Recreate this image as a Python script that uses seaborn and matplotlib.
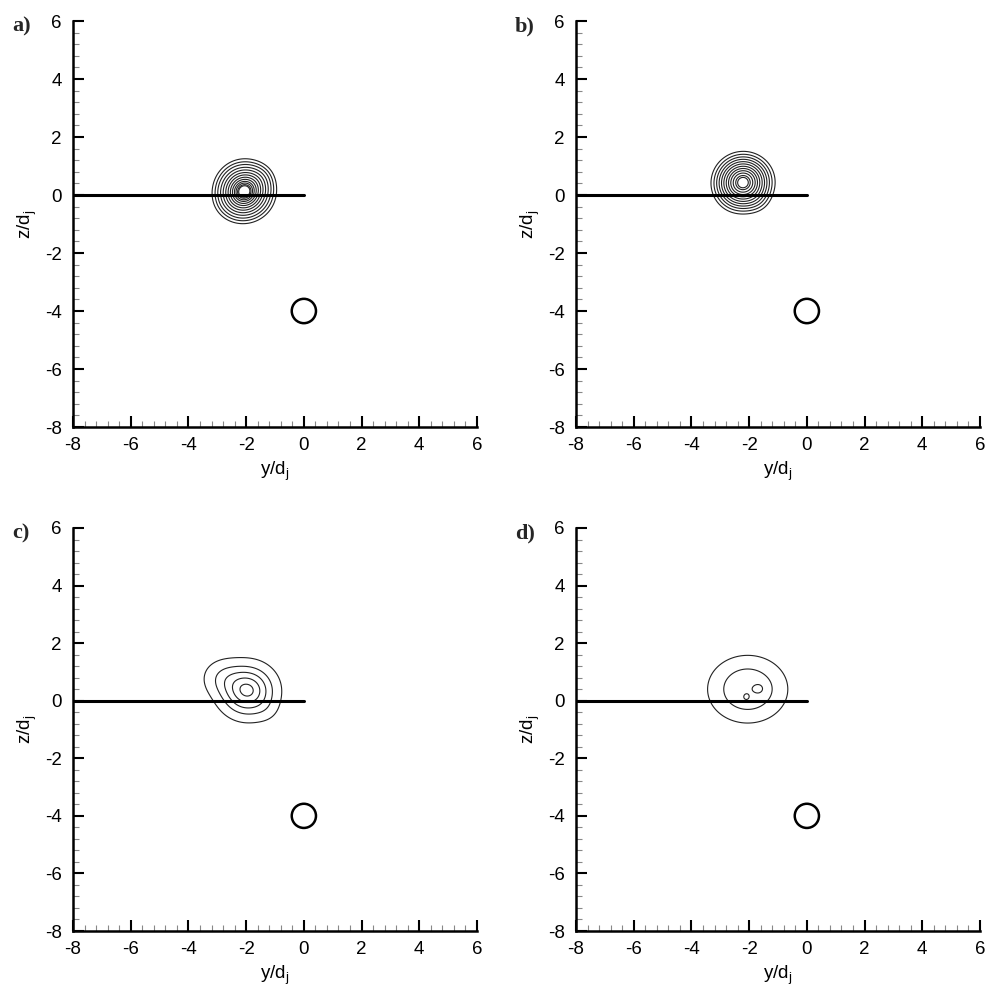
import numpy as np
import matplotlib
matplotlib.use('Agg')
import matplotlib.pyplot as plt
from matplotlib.ticker import MultipleLocator
from matplotlib.patches import Circle
import pandas as pd
import seaborn as sns

# jet concentration field, modelled as a few blobs per panel: (y, z, amplitude, sigma_y, sigma_z)
blobs_a = [(-2.05, 0.15, 1.0, 0.50, 0.50), (-2.35, -0.25, 0.10, 0.45, 0.40), (-1.5, 0.6, 0.05, 0.3, 0.3)]
blobs_b = [(-2.20, 0.45, 1.0, 0.50, 0.48), (-2.45, 0.10, 0.08, 0.45, 0.45), (-1.7, -0.2, 0.04, 0.3, 0.3)]
blobs_c = [(-1.95, 0.35, 1.0, 0.55, 0.52), (-2.80, 0.80, 0.24, 0.45, 0.40), (-1.3, -0.3, 0.06, 0.3, 0.3)]
blobs_d = [(-2.05, 0.40, 0.88, 0.78, 0.66), (-1.62, 0.42, 0.25, 0.17, 0.17), (-2.10, 0.10, 0.20, 0.10, 0.10)]

levels_a = [0.09, 0.14, 0.20, 0.28, 0.37, 0.47, 0.57, 0.67, 0.76, 0.84, 0.90, 0.95, 0.98]
levels_b = [0.09, 0.14, 0.20, 0.27, 0.35, 0.44, 0.54, 0.64, 0.74, 0.84, 0.93, 0.985]
levels_c = [0.10, 0.30, 0.52, 0.75, 0.95]
levels_d = [0.18, 0.50, 0.93]

panel_labels = ['a)', 'b)', 'c)', 'd)']

# jet exit line and cylinder
wall_y = [-8, 0]
wall_z = [0, 0]
cyl_y, cyl_z, cyl_r = 0.0, -4.0, 0.42

sns.set_style('ticks')
plt.rcParams['font.family'] = ['Liberation Sans', 'DejaVu Sans']
plt.rcParams['axes.unicode_minus'] = False
plt.rcParams['xtick.direction'] = 'in'
plt.rcParams['ytick.direction'] = 'in'

fig = plt.figure(figsize=(9.87, 9.92), dpi=100)
W, H = 987.0, 992.0
# axes boxes in pixels: left, top, right, bottom
boxes = [(73, 21, 477, 427), (576, 21, 980, 427), (73, 528, 477, 931), (576, 528, 980, 931)]

gy = np.linspace(-5, 1, 400)
gz = np.linspace(-2.5, 3.5, 400)
YY, ZZ = np.meshgrid(gy, gz)


def field(blobs):
    f = np.zeros_like(YY)
    for y0, z0, a, sy, sz in blobs:
        f += a * np.exp(-((YY - y0) ** 2 / (2 * sy ** 2) + (ZZ - z0) ** 2 / (2 * sz ** 2)))
    return f


for (l, t, r, b), blobs, levels, lab in zip(boxes, [blobs_a, blobs_b, blobs_c, blobs_d],
                                            [levels_a, levels_b, levels_c, levels_d], panel_labels):
    ax = fig.add_axes([l / W, 1 - b / H, (r - l) / W, (b - t) / H])
    ax.contour(YY, ZZ, field(blobs), levels=levels, colors='#222222', linewidths=0.8)
    sns.lineplot(x=wall_y, y=wall_z, ax=ax, color='black', linewidth=2.2)
    ax.add_patch(Circle((cyl_y, cyl_z), cyl_r, fill=False, edgecolor='black', linewidth=1.8))

    ax.set_xlim(-8, 6)
    ax.set_ylim(-8, 6)
    ax.xaxis.set_major_locator(MultipleLocator(2))
    ax.yaxis.set_major_locator(MultipleLocator(2))
    ax.xaxis.set_minor_locator(MultipleLocator(0.4))
    ax.yaxis.set_minor_locator(MultipleLocator(0.4))
    ax.tick_params(which='major', direction='in', length=8, width=1.5, labelsize=13.5, color='black')
    ax.tick_params(axis='y', which='major', pad=8)
    ax.tick_params(axis='x', which='major', pad=7)
    ax.tick_params(which='minor', direction='in', length=4, width=0.8, color='#888888')
    for s in ['top', 'right']:
        ax.spines[s].set_visible(False)
    for s in ['left', 'bottom']:
        ax.spines[s].set_linewidth(1.8)
        ax.spines[s].set_color('black')
    ax.set_xlabel(r'y/d$_\mathregular{j}$', fontsize=13.5, labelpad=4, color='black')
    ax.set_ylabel(r'z/d$_\mathregular{j}$', fontsize=13.5, labelpad=4, color='black')
    ax.tick_params(labelcolor='black')

    fig.text((l - 61) / W, 1 - (t + 10) / H, lab, fontsize=16, fontweight='bold',
             family='Liberation Serif', ha='left', va='baseline')

fig.savefig('out.png', dpi=100)
